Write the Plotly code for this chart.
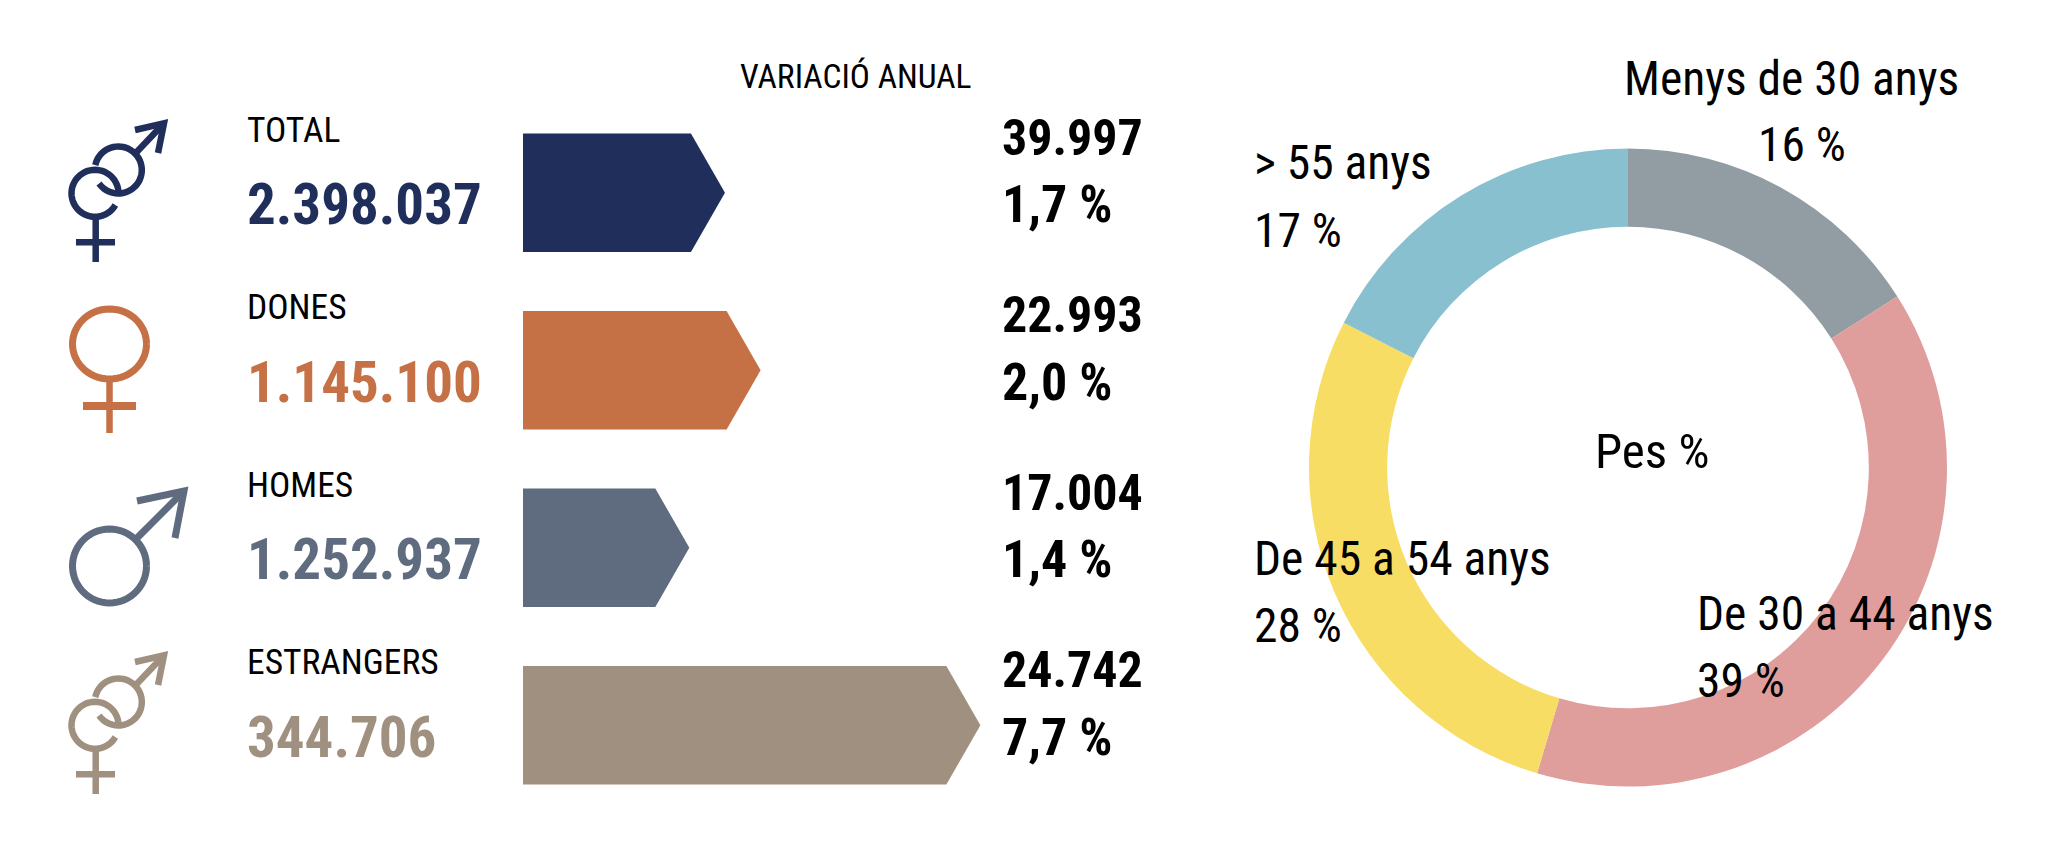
import math
import plotly.graph_objects as go

W, H = 2067, 850
OFFSET = 8
FW, FH = W - 2 * OFFSET, H - 2 * OFFSET
categories = ["TOTAL", "DONES", "HOMES", "ESTRANGERS"]
totals = ["2.398.037", "1.145.100", "1.252.937", "344.706"]
variation_abs = ["39.997", "22.993", "17.004", "24.742"]
variation_pct_labels = ["1,7 %", "2,0 %", "1,4 %", "7,7 %"]
arrow_lengths = [1.7, 2.0, 1.4, 3.85]
row_colors = ["#1F2E5A", "#C57145", "#5F6B7F", "#A09080"]
age_labels = ["Menys de 30 anys", "De 30 a 44 anys", "De 45 a 54 anys", "> 55 anys"]
age_shares = [16, 38.6, 27.9, 17.5]
age_colors = ["#919CA3", "#DF9E9C", "#F8DD64", "#88C0D0"]

FONT = "Roboto Condensed, Liberation Sans, sans-serif"
X0_PX, PX_PER_UNIT = 523, 118.8
ROW0_PX, ROW_STEP = 192.8, 177.5
ARROW_H = 118.6 / ROW_STEP
TIP = 34 / PX_PER_UNIT


def px(x, y):
    return (x - OFFSET) / FW, 1 - (y - OFFSET) / FH


fig = go.Figure()

dx0, dy1 = px(1628 - 319, 467.5 + 319)
dx1, dy0 = px(1628 + 319, 467.5 - 319)
fig.add_trace(go.Pie(
    labels=age_labels, values=age_shares, sort=False, direction="clockwise", rotation=0,
    hole=0.755, textinfo="none", hoverinfo="label+percent", showlegend=False,
    marker=dict(colors=age_colors, line=dict(width=0)),
    domain=dict(x=[dx0, dx1], y=[dy1, dy0]),
))

for i, (length, color) in enumerate(zip(arrow_lengths, row_colors)):
    h = ARROW_H / 2
    fig.add_trace(go.Scatter(
        x=[0, length - TIP, length, length - TIP, 0, 0],
        y=[i - h, i - h, i, i + h, i + h, i - h],
        mode="lines", fill="toself", fillcolor=color, line=dict(width=0, color=color),
        name=categories[i], showlegend=False, hoverinfo="name",
    ))


def note(x, y, text, size, color="#000000", anchor="left", bold=False):
    xp, yp = px(x, y)
    fig.add_annotation(
        x=xp, y=yp, xref="paper", yref="paper", text=f"<b>{text}</b>" if bold else text,
        showarrow=False, xanchor=anchor, yanchor="middle",
        font=dict(family=FONT, size=size, color=color), borderpad=0,
    )


note(855, 76, "VARIACIÓ ANUAL", 33.5, anchor="center")
for i in range(4):
    yc = ROW0_PX + i * ROW_STEP
    note(245.5, yc - 63, categories[i], 35.5)
    note(246, yc + 12, totals[i], 57, color=row_colors[i], bold=True)
    note(1001, yc - 55, variation_abs[i], 50, bold=True)
    note(1001, yc + 12, variation_pct_labels[i], 52, bold=True)

note(1652, 451, "Pes %", 49, anchor="center")
for text, x, y, anchor in [
    ("Menys de 30 anys", 1791, 79, "center"),
    ("16 %", 1802, 145, "center"),
    ("> 55 anys", 1252.5, 163, "left"),
    ("17 %", 1252.5, 231, "left"),
    ("De 45 a 54 anys", 1252.5, 559, "left"),
    ("28 %", 1252.5, 626, "left"),
    ("De 30 a 44 anys", 1695.5, 614, "left"),
    ("39 %", 1695.5, 681, "left"),
]:
    note(x, y, text, 47.5, anchor=anchor)


shapes = []


def stroke(points, color, width):
    d = "M " + " L ".join("%.5f %.5f" % px(x, y) for x, y in points)
    shapes.append(dict(type="path", xref="paper", yref="paper", path=d,
                       line=dict(color=color, width=width), layer="above"))


def arc(cx, cy, rx, ry, a0, a1, color, width):
    n = max(8, int(abs(a1 - a0) / 6))
    pts = [(cx + rx * math.cos(math.radians(a0 + (a1 - a0) * k / n)),
            cy + ry * math.sin(math.radians(a0 + (a1 - a0) * k / n))) for k in range(n + 1)]
    stroke(pts, color, width)


def both(dy, color):
    arc(95, 193.3 + dy, 23.5, 23.5, 30, 360, color, 6.5)
    stroke([(95.7, 217 + dy), (95.7, 262 + dy)], color, 6.5)
    stroke([(76, 242.3 + dy), (115, 242.3 + dy)], color, 6.5)
    arc(118.3, 170 + dy, 23.5, 23.5, 192, 505, color, 6.5)
    stroke([(136, 152.7 + dy), (164, 123.3 + dy)], color, 6.5)
    stroke([(135, 130 + dy), (164, 123.3 + dy), (158, 153 + dy)], color, 6.5)


both(0, row_colors[0])
both(532, row_colors[3])

c = row_colors[1]
arc(109.5, 344, 37, 35, 0, 360, c, 7)
stroke([(109.5, 379), (109.5, 433)], c, 6.5)
stroke([(83, 406), (136, 406)], c, 8)

c = row_colors[2]
arc(109.5, 566, 37, 37, 0, 360, c, 7)
stroke([(137, 538), (184, 491)], c, 7)
stroke([(137, 501), (184, 491), (175, 538)], c, 7)

fig.update_layout(
    width=FW, height=FH, margin=dict(l=0, r=0, t=0, b=0), autosize=False,
    paper_bgcolor="white", plot_bgcolor="rgba(0,0,0,0)", showlegend=False, shapes=shapes,
    xaxis=dict(range=[-(X0_PX - OFFSET) / PX_PER_UNIT, (W - OFFSET - X0_PX) / PX_PER_UNIT], domain=[0, 1], visible=False, fixedrange=True),
    yaxis=dict(range=[(H - OFFSET - ROW0_PX) / ROW_STEP, -(ROW0_PX - OFFSET) / ROW_STEP], domain=[0, 1], visible=False, fixedrange=True),
)
fig.write_html("out.html")
